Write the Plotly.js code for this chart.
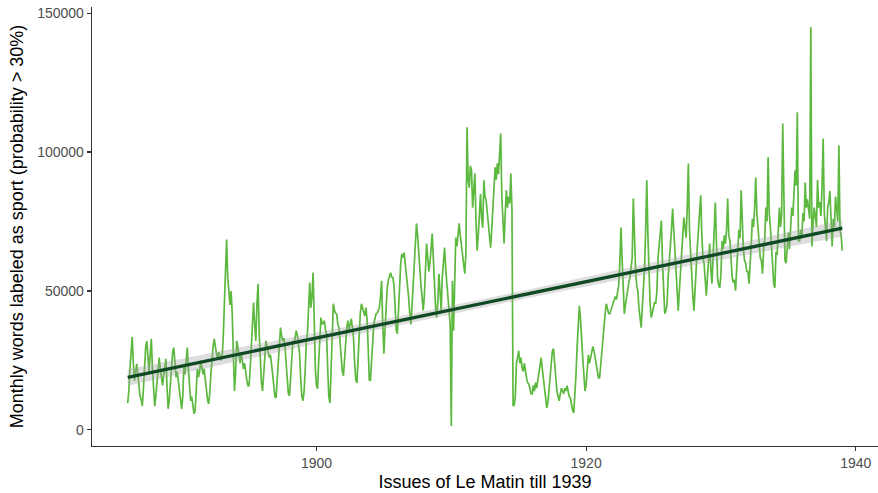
<!DOCTYPE html>
<html><head><meta charset="utf-8">
<script src="https://cdn.plot.ly/plotly-3.0.1.min.js"></script>
<style>html,body{margin:0;padding:0;background:#fff}</style>
</head><body><div id="chart" style="width:878px;height:493px"></div>
<script>
// Monthly words labeled as sport, Le Matin, starting January 1886
const startYear = 1886;
const v1886_1889 = [
  9700, 14000, 22000, 28000, 33500, 24000, 17700, 21000, 23800, 20000, 16000, 12000,
  11000, 8600, 15000, 24000, 30000, 32000, 26000, 21000, 27000, 32800, 22000, 14000,
  8600, 12000, 18000, 23000, 26000, 22000, 19000, 16000, 20000, 24000, 25600, 15000,
  7600, 11000, 17000, 24000, 28000, 29600, 24000, 19000, 21000, 17000, 13000, 10000
];
const v1890s = [
  7600, 12000, 23000, 20000, 25000, 29600, 22000, 14000, 10500, 12000, 8000, 5800,
  7000, 14000, 22000, 19000, 21000, 24900, 23000, 20000, 22000, 18000, 14000, 11000,
  9400, 13000, 20000, 26000, 30000, 32800, 29000, 27400, 26000, 28000, 27000, 25000,
  26000, 33000, 45000, 58000, 68500, 55000, 49000, 45000, 50000, 42000, 28000, 14000,
  20000, 32000, 30000, 26000, 24000, 28000, 25000, 22000, 24000, 20000, 18000, 15900,
  15900, 22000, 30000, 35700, 45800, 38000, 32000, 45000, 52600, 35000, 22000, 17000,
  14000, 20000, 29600, 32000, 30000, 28000, 26000, 27000, 24000, 20000, 16000, 12000,
  11500, 18000, 28000, 33000, 36800, 34000, 32000, 33000, 30000, 24000, 18000, 13000,
  12300, 18000, 26000, 32000, 31000, 33000, 35700, 34000, 30000, 27400, 18000, 12000,
  10500, 14000, 22000, 32000, 35000, 45000, 53000, 44000, 48000, 56600, 36800, 22000
];
const v1900s = [
  16000, 14800, 25000, 35000, 40400, 38000, 39000, 39300, 36000, 34600, 22000, 12000,
  9700, 20000, 35000, 45400, 43000, 42000, 41800, 38000, 36800, 32000, 26000, 21000,
  19500, 26000, 34000, 37000, 39300, 36000, 38000, 40000, 36800, 33000, 24000, 18000,
  16900, 25000, 36000, 42000, 45400, 44000, 43000, 41000, 44000, 40000, 30000, 18000,
  17700, 24000, 32000, 38000, 40000, 41800, 42000, 43000, 44000, 48000, 53700, 38000,
  27400, 36000, 45000, 51200, 54000, 55000, 56600, 55000, 54800, 52000, 45000, 36000,
  34600, 45000, 55000, 60000, 63400, 62000, 63800, 60000, 55000, 52600, 48000, 42000,
  38000, 44000, 52000, 60000, 68000, 74300, 70000, 63400, 58000, 52000, 48000, 43000,
  48000, 58000, 67100, 62000, 57000, 60000, 66000, 70700, 62000, 52000, 44000, 40400,
  46000, 56200, 50000, 42900, 55000, 60000, 65600, 58000, 52600, 46000, 40400, 38000
];
const v1910s = [
  1400, 53700, 35700, 55000, 69200, 66000, 72000, 74300, 70000, 66000, 62000, 58000,
  56200, 63400, 108900, 90000, 87200, 95000, 93400, 80000, 85000, 92300, 75000, 64500,
  70000, 79000, 85000, 76000, 72800, 89800, 84000, 82600, 78000, 72000, 68000, 65600,
  72000, 80000, 87200, 94500, 90000, 95900, 92000, 98000, 106700, 83600, 75000, 67100,
  78000, 86200, 80000, 84000, 81500, 92300, 79000, 8600, 9000, 12000, 24000, 27000,
  28500, 24000, 26000, 22300, 21000, 24000, 20000, 18700, 17000, 16500, 15000, 13000,
  13000, 16000, 14000, 17000, 15000, 18000, 20000, 23000, 26000, 22000, 18000, 16500,
  12000, 7900, 10000, 15000, 20000, 24000, 28500, 29200, 23800, 16500, 14000, 12000,
  10500, 13000, 15000, 14000, 13000, 15000, 14000, 15900, 14000, 12000, 11500, 9000,
  7000, 6100, 12000, 20000, 30000, 38000, 44700, 40000, 34600, 26000, 20000, 14000
];
const v1920s = [
  16000, 23800, 27000, 24000, 26000, 28000, 30000, 28500, 26000, 24000, 20000, 18700,
  18700, 24000, 28000, 33000, 38000, 42000, 45400, 43000, 42000, 41800, 43000, 44000,
  45000, 46500, 48000, 47000, 50100, 52000, 60000, 72800, 62000, 52600, 41800, 45000,
  48000, 50000, 53000, 54800, 58000, 62000, 83300, 66000, 58000, 52000, 50100, 44000,
  40000, 36800, 44000, 50100, 58000, 72000, 89800, 70000, 55000, 45000, 40400, 42000,
  44000, 46000, 45400, 50100, 62000, 67100, 70000, 75300, 60000, 50000, 41800, 42900,
  45000, 54800, 60000, 65000, 72000, 79700, 71700, 68000, 55000, 48000, 42900, 50000,
  58000, 64500, 70000, 76400, 72000, 69200, 80000, 95900, 72000, 62000, 54800, 48000,
  42900, 52000, 61000, 66000, 72000, 78000, 84400, 70000, 62000, 59800, 51200, 48300,
  55000, 60000, 67100, 58000, 52600, 62000, 75000, 81800, 68000, 54800, 52000, 51200
];
const v1930s = [
  56000, 68000, 65000, 70000, 67000, 72000, 83300, 70000, 68000, 61000, 55000, 53000,
  54000, 50100, 60000, 65000, 72000, 69000, 86200, 73000, 65000, 61000, 60000, 57000,
  57000, 52600, 63000, 67000, 76000, 73000, 80000, 90800, 78000, 73000, 65000, 62000,
  61000, 56200, 65000, 69000, 80000, 75000, 98100, 78000, 73000, 67000, 60000, 52600,
  51200, 64000, 63000, 70000, 80000, 73000, 77000, 110300, 74000, 61000, 60000, 67000,
  71000, 65000, 74000, 80000, 77000, 84000, 93400, 88000, 114300, 68000, 68000, 72000,
  69000, 78000, 75000, 89000, 80000, 83000, 78000, 76000, 145000, 66000, 74000, 80000,
  77000, 73000, 90000, 80000, 82000, 77000, 88000, 104900, 78000, 72000, 68000, 80000,
  82000, 86000, 75000, 66000, 76000, 73000, 84000, 78000, 75000, 102400, 72000, 70000,
  64500
];
const xTickVals = [1900, 1920, 1940];
const yTickVals = [0, 50000, 100000, 150000];
const yTickText = ['0', '50000', '100000', '150000'];
const xTitle = 'Issues of Le Matin till 1939';
const yTitle = 'Monthly words labeled as sport (probability > 30%)';

const values = [].concat(v1886_1889, v1890s, v1900s, v1910s, v1920s, v1930s);
const t = values.map((v, i) => startYear + i / 12);

// linear model (as geom_smooth(method = "lm")) with 95% confidence band
const n = values.length;
const mx = t.reduce((s, x) => s + x, 0) / n;
const my = values.reduce((s, y) => s + y, 0) / n;
let sxx = 0, sxy = 0;
for (let i = 0; i < n; i++) { sxx += (t[i] - mx) ** 2; sxy += (t[i] - mx) * (values[i] - my); }
const b = sxy / sxx, a = my - b * mx;
let sse = 0;
for (let i = 0; i < n; i++) sse += (values[i] - (a + b * t[i])) ** 2;
const sres = Math.sqrt(sse / (n - 2));
const tcrit = 1.964;
const gx = [], gfit = [], glo = [], ghi = [];
for (let k = 0; k <= 80; k++) {
  const x = t[0] + (t[n - 1] - t[0]) * k / 80;
  const f = a + b * x;
  const se = sres * Math.sqrt(1 / n + (x - mx) ** 2 / sxx);
  gx.push(x); gfit.push(f); glo.push(f - tcrit * se); ghi.push(f + tcrit * se);
}

const xmin = Math.min(...t), xmax = Math.max(...t);
const ymin = Math.min(...values), ymax = Math.max(...values);
const xr = [xmin - 0.05 * (xmax - xmin), xmax + 0.05 * (xmax - xmin)];
const yr = [ymin - 0.05 * (ymax - ymin), ymax + 0.05 * (ymax - ymin)];

const font = 'Liberation Sans, Arial, Helvetica, sans-serif';
const traces = [
  {x: t, y: values, type: 'scatter', mode: 'lines', line: {color: '#5cb83f', width: 1.7}, hoverinfo: 'skip'},
  {x: gx, y: glo, type: 'scatter', mode: 'lines', line: {width: 0}, hoverinfo: 'skip'},
  {x: gx, y: ghi, type: 'scatter', mode: 'lines', line: {width: 0}, fill: 'tonexty', fillcolor: 'rgba(160,160,160,0.35)', hoverinfo: 'skip'},
  {x: gx, y: gfit, type: 'scatter', mode: 'lines', line: {color: '#0f4a24', width: 3.3}, hoverinfo: 'skip'}
];
const axisBase = {
  showgrid: false, zeroline: false, showline: true, linecolor: '#333333', linewidth: 1.3,
  ticks: 'outside', ticklen: 4, tickwidth: 1.1, tickcolor: '#333333',
  tickfont: {family: font, size: 14, color: '#4d4d4d'}, automargin: false
};
const layout = {
  width: 878, height: 493,
  margin: {l: 92, r: 0, t: 7, b: 47},
  paper_bgcolor: '#ffffff', plot_bgcolor: '#ffffff',
  showlegend: false,
  xaxis: Object.assign({}, axisBase, {
    range: xr, tickmode: 'array', tickvals: xTickVals,
    title: {text: xTitle, font: {family: font, size: 18, color: '#000000'}, standoff: 5}
  }),
  yaxis: Object.assign({}, axisBase, {
    range: yr, tickmode: 'array', tickvals: yTickVals, ticktext: yTickText,
    title: {text: yTitle, font: {family: font, size: 18, color: '#000000'}, standoff: 9}
  })
};
Plotly.newPlot('chart', traces, layout, {displayModeBar: false, staticPlot: true});
</script>
</body></html>
